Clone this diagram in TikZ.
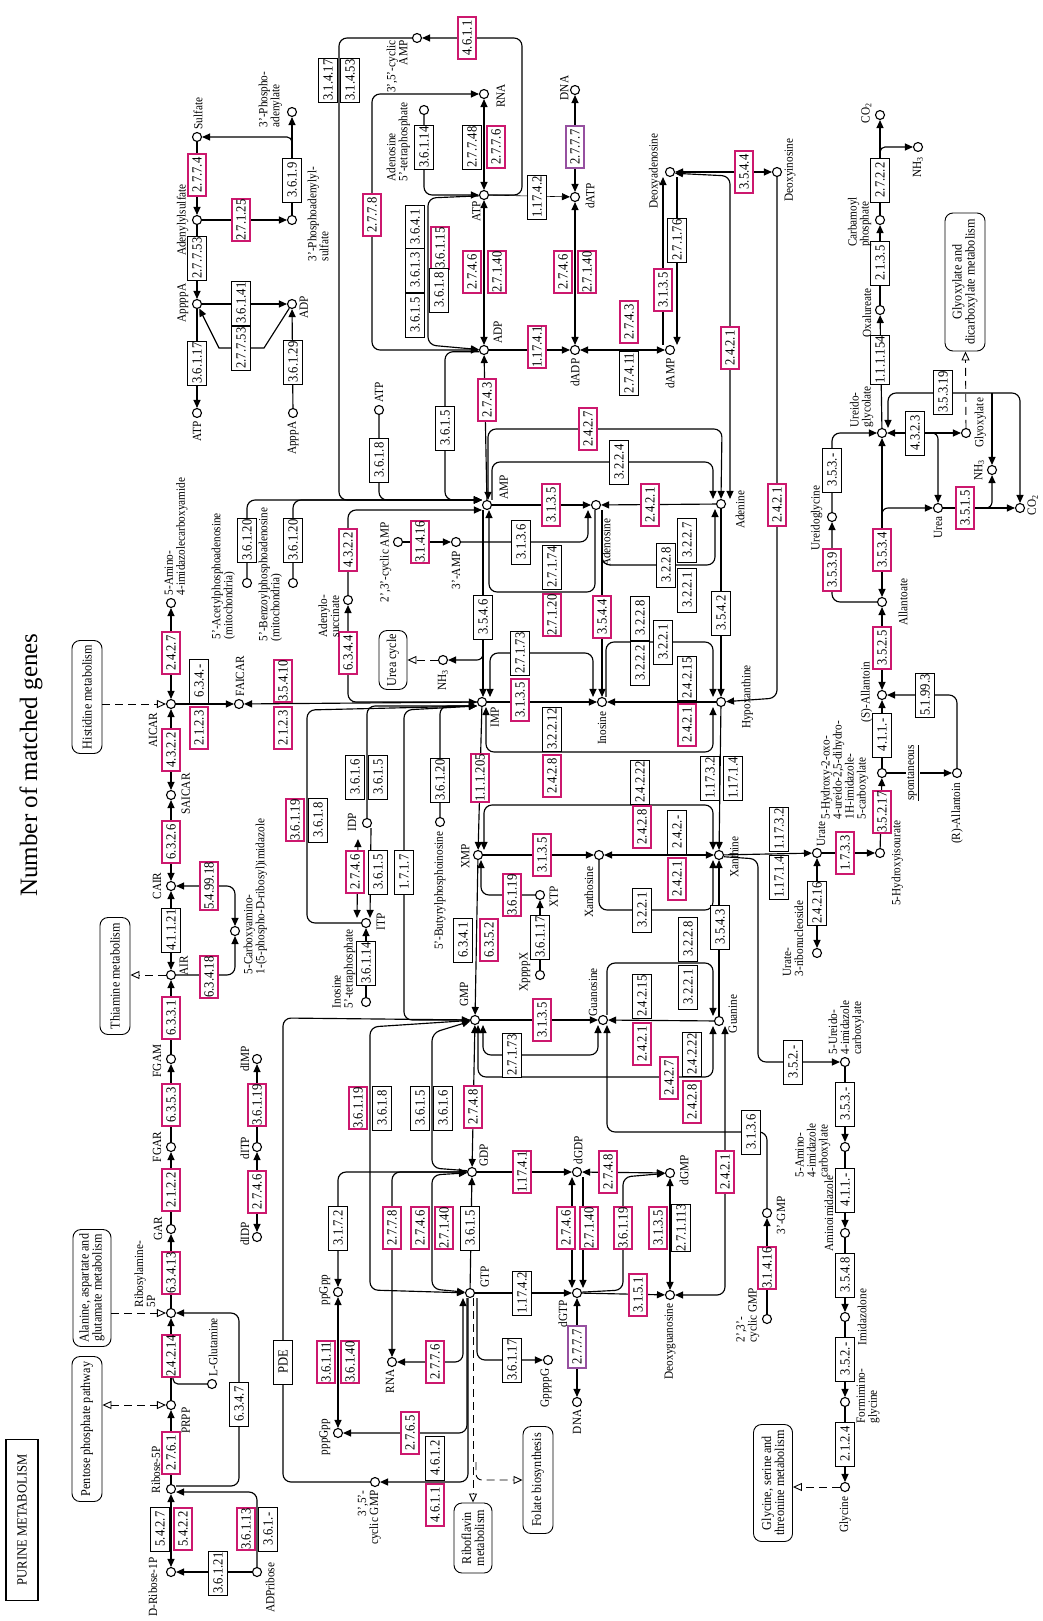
\documentclass[tikz,border=0pt]{standalone}
\usepackage{fontspec}
\setmainfont{Liberation Serif}[FakeStretch=0.9]
\newfontfamily\ttlfont{Liberation Serif}
\usetikzlibrary{arrows.meta}
\definecolor{kegghit}{RGB}{204,24,110}
\definecolor{keggdna}{RGB}{150,80,160}

\begin{document}
\begin{tikzpicture}[x=1pt,y=-1pt,
  cpd/.style={circle,draw,fill=white,line width=1.1pt,inner sep=0pt,minimum size=9pt},
  enz/.style={draw,fill=white,rotate=90,line width=0.9pt,inner xsep=0.5pt,inner ysep=0pt,minimum width=44pt,minimum height=19pt,font=\fontsize{14}{14}\selectfont},
  hitbox/.style={enz,draw=kegghit,line width=2.6pt,minimum width=42pt,minimum height=18pt},
  dnabox/.style={hitbox,draw=keggdna},
  lbl/.style={rotate=90,inner sep=0.5pt,font=\fontsize{12.5}{12}\selectfont,align=left},
  pmap/.style={draw,rounded corners=8pt,rotate=90,line width=0.9pt,fill=white,font=\fontsize{13.5}{13}\selectfont,align=center},
  conn/.style={line width=1.15pt},
  ar/.style={conn,-{Triangle[length=8pt,width=7pt]}},
  ar2/.style={conn,{Triangle[length=8pt,width=7pt]}-{Triangle[length=8pt,width=7pt]}},
  lnk/.style={line width=0.9pt,dash pattern=on 8pt off 5pt},
  opn/.style={lnk,-{Triangle[open,length=9pt,width=8pt]}}]
\fill[white] (0,0) rectangle (1043,1621);
\useasboundingbox (0,0) rectangle (1043,1621);

\node[cpd] (sulf) at (197,137) {};
\node[cpd] (aps) at (197,220) {};
\node[cpd] (ap4a) at (197,304) {};
\node[cpd] (adps) at (292,304) {};
\node[cpd] (atps) at (197,413) {};
\node[cpd] (ap3a) at (293,413) {};
\node[cpd] (paps) at (292,220) {};
\node[cpd] (pap) at (292,112) {};
\node[cpd] (camp) at (417,38) {};
\node[cpd] (rnaa) at (484,94) {};
\node[cpd] (a5tp) at (424,110) {};
\node[cpd] (atp) at (484,195) {};
\node[cpd] (adp) at (484,350) {};
\node[cpd] (datp) at (575,197) {};
\node[cpd] (dnaa) at (575,90) {};
\node[cpd] (dadp) at (575,350) {};
\node[cpd] (damp) at (670,350) {};
\node[cpd] (dado) at (670,172) {};
\node[cpd] (dino) at (777,172) {};
\node[cpd] (atpb) at (379,410) {};
\node[cpd] (amp) at (487,505) {};
\node[cpd] (ado) at (596,505) {};
\node[cpd] (ade) at (721,504) {};
\node[cpd] (camp23) at (398,542) {};
\node[cpd] (amp3) at (456,542) {};
\node[cpd] (nh3a) at (443,660) {};
\node[cpd] (imp) at (482,702) {};
\node[cpd] (ino) at (602,702) {};
\node[cpd] (hyp) at (721,702) {};
\node[cpd] (faicar) at (239,704) {};
\node[cpd] (aicar) at (171,704) {};
\node[cpd] (saicar) at (171,795) {};
\node[cpd] (aica) at (171,603) {};
\node[cpd] (acpa) at (247,583) {};
\node[cpd] (bzpa) at (293,583) {};
\node[cpd] (adsuc) at (348,600) {};
\node[cpd] (xmp) at (478,855) {};
\node[cpd] (xao) at (599,855) {};
\node[cpd] (xan) at (719,855) {};
\node[cpd] (urate) at (817,853) {};
\node[cpd] (hiu) at (880,853) {};
\node[cpd] (ohcu) at (882,773) {};
\node[cpd] (sall) at (882,695) {};
\node[cpd] (rall) at (957,773) {};
\node[cpd] (allt) at (882,602) {};
\node[cpd] (ugly) at (832,517) {};
\node[cpd] (ugol) at (882,433) {};
\node[cpd] (urea) at (938,508) {};
\node[cpd] (glx) at (966,433) {};
\node[cpd] (nh3b) at (992,470) {};
\node[cpd] (co2a) at (1020,508) {};
\node[cpd] (co2b) at (880,115) {};
\node[cpd] (nh3c) at (918,147) {};
\node[cpd] (cbp) at (880,220) {};
\node[cpd] (oxu) at (880,310) {};
\node[cpd] (u3r) at (817,953) {};
\node[cpd] (gua) at (719,1021) {};
\node[cpd] (uic) at (845,1062) {};
\node[cpd] (aic) at (845,1147) {};
\node[cpd] (gmp3) at (767,1213) {};
\node[cpd] (cgmp23) at (767,1319) {};
\node[cpd] (aimz) at (845,1233) {};
\node[cpd] (imzl) at (845,1317) {};
\node[cpd] (fgly) at (845,1402) {};
\node[cpd] (gly) at (845,1487) {};
\node[cpd] (gmp) at (475,1020) {};
\node[cpd] (guo) at (603,1020) {};
\node[cpd] (gdp) at (472,1172) {};
\node[cpd] (dgdp) at (577,1172) {};
\node[cpd] (dgmp) at (670,1173) {};
\node[cpd] (gtp) at (470,1293) {};
\node[cpd] (dgtp) at (577,1293) {};
\node[cpd] (dnab) at (577,1402) {};
\node[cpd] (dguo) at (670,1295) {};
\node[cpd] (rnab) at (392,1362) {};
\node[cpd] (gp4g) at (548,1360) {};
\node[cpd] (cgmp) at (375,1482) {};
\node[cpd] (ppgpp) at (338,1292) {};
\node[cpd] (pppgpp) at (338,1433) {};
\node[cpd] (itp) at (366,923) {};
\node[cpd] (idp) at (367,823) {};
\node[cpd] (i5tp) at (366,1002) {};
\node[cpd] (bpi) at (440,822) {};
\node[cpd] (xtp) at (540,895) {};
\node[cpd] (xp4x) at (540,975) {};
\node[cpd] (ditp) at (257,1147) {};
\node[cpd] (dimp) at (257,1059) {};
\node[cpd] (didp) at (257,1237) {};
\node[cpd] (fgar) at (171,1147) {};
\node[cpd] (fgam) at (171,1059) {};
\node[cpd] (air) at (171,975) {};
\node[cpd] (cair) at (171,886) {};
\node[cpd] (ncair) at (235,931) {};
\node[cpd] (gar) at (171,1229) {};
\node[cpd] (pra) at (171,1313) {};
\node[cpd] (prpp) at (171,1405) {};
\node[cpd] (gln) at (212,1384) {};
\node[cpd] (r5p) at (171,1489) {};
\node[cpd] (r1p) at (171,1572) {};
\node[cpd] (adpr) at (257,1572) {};

\node[pmap,minimum width=113pt,minimum height=30pt] (his) at (87,697) {Histidine metabolism};
\node[pmap,minimum width=117pt,minimum height=30pt] (thi) at (115,976) {Thiamine metabolism};
\node[pmap,minimum width=117pt,minimum height=38pt] (ala) at (92,1288) {Alanine, aspartate and\\glutamate metabolism};
\node[pmap,minimum width=145pt,minimum height=30pt] (ppp) at (87,1429) {Pentose phosphate pathway};
\node[pmap,minimum width=58pt,minimum height=28pt] (urc) at (393,660) {Urea cycle};
\node[pmap,minimum width=138pt,minimum height=40pt] (glxm) at (965,282) {Glyoxylate and\\dicarboxylate metabolism};
\node[pmap,minimum width=117pt,minimum height=39pt] (glym) at (773,1483) {Glycine, serine and\\threonine metabolism};
\node[pmap,minimum width=70pt,minimum height=38pt] (ribm) at (473,1538) {Riboflavin\\metabolism};
\node[pmap,minimum width=107pt,minimum height=30pt] (fol) at (538,1480) {Folate biosynthesis};
\node[draw,line width=1.6pt,rotate=90,minimum width=161pt,minimum height=32pt,font=\fontsize{14}{14}\selectfont] (ttlbox) at (22,1520) {PURINE METABOLISM};
\node[rotate=90,font=\ttlfont\fontsize{25}{25}\selectfont] (title) at (31,765) {Number of matched genes};

\draw[ar] (sulf) -- (aps);
\draw[ar] (aps) -- (paps);
\draw[ar] (paps) -- (pap);
\coordinate (bsulf) at (292,150);
\draw[ar,rounded corners=5pt] (bsulf) |- (sulf);
\draw[ar] (aps) -- (ap4a);
\draw[ar] (ap4a) -- (adps);
\draw[ar] (adps) -- (264,348) -- (219,348) -- (ap4a);
\draw[ar] (ap4a) -- (atps);
\draw[ar] (ap3a) -- (adps);

\draw[ar,rounded corners=8pt] (atp) -- (522,195) -- (522,38) -- (camp);
\draw[ar,rounded corners=8pt] (camp) -| (339,500) -- ([yshift=5pt]amp.west);
\draw[ar2,rounded corners=8pt] (rnaa) -- (372,94) -- (372,350) -- (adp);
\draw[ar2] (atp) -- (rnaa);
\draw[ar,rounded corners=8pt] (a5tp) |- (atp);
\draw[ar,rounded corners=8pt] (atp.190) -- (428,198) -- (428,345) -- (adp);
\draw[ar2] (atp) -- (adp);
\draw[line width=0.6pt,-{Triangle[length=8pt,width=7pt]}] (atp) -- (datp);
\draw[ar2] (datp) -- (dnaa);
\draw[ar2] (datp) -- (dadp);
\draw[ar] (adp) -- (dadp);
\draw[ar2] (dadp) -- (damp);
\draw[ar] ([xshift=-7pt]damp.north) -- ([xshift=-7pt]dado.south);
\draw[ar] ([xshift=7pt]dado.south) -- ([xshift=7pt]damp.north);
\draw[ar2] (dado) -- (dino);
\draw[ar2,rounded corners=8pt] (dado.-15) -- (730,176) -- ([xshift=9pt]ade.north);
\draw[ar,rounded corners=8pt] (dino) -- (777,698) -- (hyp);

\draw[ar] (amp) -- (adp);
\draw[ar2,rounded corners=8pt] ([xshift=1pt]amp.north) -- (488,429) -- (722,429) -- (ade.north);
\draw[ar,rounded corners=8pt] ([xshift=5pt]amp.north) -- (492,462) -- (713,462) -- ([xshift=-8pt]ade.north);
\draw[ar] (amp) -- (ado);
\draw[ar] (ade) -- (ado);
\draw[ar] (camp23) -- (amp3);
\draw[ar,rounded corners=8pt] (amp3) -| ([xshift=-8pt]ado.south);
\draw[ar,rounded corners=8pt] ([xshift=-1pt]ado.south) -- (595,592) -- (489,592) -- ([xshift=2pt]amp.south);
\draw[ar] ([xshift=6pt]ado.south) -- (ino.north);
\draw[ar,rounded corners=8pt] ([xshift=6pt]ado.south) -- (602,565) -- (715,565) -- ([xshift=-6pt]ade.south);
\draw[ar2,rounded corners=8pt] ([xshift=-9pt]ino.north) -- (593,653) -- (490,653) -- ([xshift=8pt]imp.north);
\draw[ar] ([xshift=-4pt]amp.south) -- ([xshift=1pt]imp.north);
\coordinate (bnh3) at (483,640);
\draw[ar,rounded corners=6pt] (bnh3) |- (nh3a);
\draw[opn] (nh3a) -- (urc);
\draw[ar] (imp) -- (ino);
\draw[ar] (hyp) -- (ino);
\draw[ar2,rounded corners=8pt] ([xshift=4pt]imp.south) -- (486,752) -- (713,752) -- ([xshift=-8pt]hyp.south);
\draw[ar,rounded corners=8pt] ([xshift=4pt]ino.north) -- (606,642) -- (713,642) -- ([xshift=-8pt]hyp.north);
\draw[ar] (ade) -- (hyp);

\draw[ar,rounded corners=8pt] (acpa) |- ([yshift=5pt]amp.west);
\draw[ar,rounded corners=8pt] (bzpa) |- ([yshift=5pt]amp.west);
\draw[ar,rounded corners=8pt] (atpb) |- ([yshift=5pt]amp.west);
\draw[ar,rounded corners=8pt] (adp.200) -| (445,500) -- ([yshift=5pt]amp.west);
\draw[ar,rounded corners=8pt] (imp) -| (adsuc);
\draw[ar,rounded corners=8pt] (adsuc) |- ([yshift=-5pt]amp.west);

\draw[ar] (r5p) -- (prpp);
\draw[ar] (prpp) -- (pra);
\draw[ar] (pra) -- (gar);
\draw[ar] (gar) -- (fgar);
\draw[ar] (fgar) -- (fgam);
\draw[ar] (fgam) -- (air);
\draw[ar2] (air) -- (cair);
\draw[ar2] (cair) -- (saicar);
\draw[ar2] (saicar) -- (aicar);
\draw[ar2] (aicar) -- (aica);
\draw[ar] (aicar) -- (faicar);
\draw[ar2] (faicar) -- (imp);
\draw[ar,rounded corners=8pt] (air) -| (ncair);
\draw[ar2,rounded corners=8pt] (ncair) |- (cair);
\draw[ar2] (r5p) -- (r1p);
\draw[ar] (adpr) -- (r1p);
\draw[ar,rounded corners=8pt] (adpr) |- ([yshift=-3pt]r5p.east);
\draw[ar,rounded corners=8pt] ([yshift=3pt]r5p.east) -| (239,1313) -- (pra);
\coordinate (bgln) at (173,1376);
\draw[conn,rounded corners=5pt] (gln) -| (bgln);
\draw[opn] (his.south |- aicar) -- (aicar);
\draw[opn] (air) -- (thi.south |- air);
\draw[opn] (ala.south |- pra) -- (pra);
\draw[lnk,{Triangle[open,length=9pt,width=8pt]}-{Triangle[open,length=9pt,width=8pt]}] (ppp.south |- prpp) -- (prpp);
\draw[opn] (glx) -- (glxm);
\draw[opn] (gly) -- (glym.south |- gly);
\draw[opn] ([xshift=3pt]gtp.south) -- (ribm.east);
\coordinate (bfol) at (476,1462);
\draw[opn,rounded corners=6pt] (bfol) |- (fol);

\draw[ar] (imp) -- (xmp);
\draw[ar2,rounded corners=8pt] ([xshift=6pt]xmp.north) -- (484,805) -- (713,805) -- ([xshift=-6pt]xan.north);
\draw[ar] (hyp) -- (xan);
\draw[ar] (xmp) -- (xao);
\draw[ar2] (xan) -- (xao);
\draw[ar,rounded corners=8pt] (xao) |- (713,910) -- ([xshift=-6pt]xan.south);
\draw[ar,rounded corners=8pt] (xtp) -| ([xshift=3pt]xmp.south);
\draw[ar] (xp4x) -- (xtp);
\draw[ar] (xmp) -- (gmp);
\draw[ar] (gmp) -- (guo);
\draw[ar] (gua) -- (guo);
\draw[ar2,rounded corners=8pt] ([xshift=-5pt]guo.south) -- (598,1055) -- (483,1055) -- ([xshift=8pt]gmp.south);
\draw[ar2,rounded corners=8pt] ([xshift=3pt]gmp.south) -- (478,1077) -- (713,1077) -- ([xshift=-6pt]gua.south);
\draw[ar,rounded corners=8pt] ([xshift=4pt]guo.north) -- (607,963) -- (713,963) -- ([xshift=-6pt]gua.north);
\draw[ar] (gua) -- (xan);
\draw[ar] (xan) -- (urate);
\draw[ar] (urate) -- (hiu);
\draw[ar] (hiu) -- (ohcu);
\draw[ar] (ohcu) -- (sall);
\draw[ar] (ohcu) -- (rall);
\draw[ar,rounded corners=8pt] (rall) |- (sall);
\draw[ar2] (sall) -- (allt);
\draw[ar2] (allt) -- (ugol);
\coordinate (burea) at (882,525);
\draw[ar,rounded corners=6pt] (burea) |- (urea);
\draw[ar,rounded corners=8pt] (allt) -| (ugly);
\draw[ar,rounded corners=8pt] (ugly) |- (ugol);
\draw[ar2] (ugol) -- (glx);
\coordinate (bureb) at (927,433);
\draw[ar,rounded corners=6pt] (bureb) -| (urea);
\draw[ar] (urea) -- (co2a);
\coordinate (bnh3b) at (980,508);
\draw[ar,rounded corners=6pt] (bnh3b) -| (nh3b);
\draw[ar] (ugol) -- (oxu);
\draw[ar] (oxu) -- (cbp);
\draw[ar] (cbp) -- (co2b);
\coordinate (bnh3c) at (880,158);
\draw[ar,rounded corners=5pt] (bnh3c) |- (nh3c);
\draw[ar2,rounded corners=8pt] ([xshift=6pt]ugol.north) -- (888,393) -- (1020,393) -- (co2a);
\coordinate (bnh3d) at (992,393);
\draw[ar] (bnh3d) -- (nh3b);
\draw[ar2] (urate) -- (u3r);
\draw[ar,rounded corners=8pt] (xan.-20) -- (758,859) -- (758,1062) -- (uic);
\draw[ar] (uic) -- (aic);
\draw[ar] (aic) -- (aimz);
\draw[ar] (aimz) -- (imzl);
\draw[ar] (imzl) -- (fgly);
\draw[ar] (fgly) -- (gly);
\draw[ar,rounded corners=8pt] (gmp3) |- (607,1132) -- ([xshift=4pt]guo.south);
\draw[ar] (cgmp23) -- (gmp3);
\draw[ar2,rounded corners=8pt] ([xshift=6pt]gua.south) -- (725,1295) -- (dguo);

\draw[ar2] (gmp) -- (gdp);
\draw[ar] (gdp) -- (dgdp);
\draw[ar2] (dgdp) -- (dgmp);
\draw[ar,rounded corners=8pt] (dgtp.10) -- (623,1290) -- (623,1177) -- (dgmp);
\draw[ar2] (dgmp) -- (dguo);
\draw[ar2] ([xshift=-5pt]dgdp.south) -- ([xshift=-5pt]dgtp.north);
\draw[ar] ([xshift=6pt]dgdp.south) -- ([xshift=6pt]dgtp.north);
\draw[ar] (gtp) -- (dgtp);
\draw[ar2] (dgtp) -- (dnab);
\draw[ar] (dgtp) -- (dguo);
\draw[ar2,rounded corners=8pt] (gdp.190) -- (432,1175) -- (432,1289) -- (gtp.170);
\draw[ar,rounded corners=8pt] (gdp.165) -- (432,1168) -- (432,1033) -- (gmp.195);
\draw[ar2,rounded corners=8pt] (gmp.185) -- (370,1027) -- (370,1290) -- (gtp.178);
\draw[ar,rounded corners=8pt] (cgmp) -- (283,1482) -- (283,1018) -- (gmp);
\draw[ar,rounded corners=8pt] (gmp) -| (404,710) -- ([yshift=-4pt]imp.west);
\draw[ar,rounded corners=8pt] (idp) |- ([yshift=-4pt]imp.west);
\draw[ar,rounded corners=8pt] (itp) -| (307,710) -- ([yshift=-4pt]imp.west);
\draw[ar,rounded corners=8pt] (bpi) |- ([yshift=-4pt]imp.west);
\draw[ar2] ([xshift=-9pt,yshift=-11pt]idp.south) -- ([xshift=-9pt]itp.north);
\draw[ar] ([xshift=4pt]idp.south) -- ([xshift=4pt]itp.north);
\draw[ar] (i5tp) -- (itp);
\draw[ar] (ditp) -- (dimp);
\draw[ar2] (didp) -- (ditp);
\draw[ar2,rounded corners=8pt] (ppgpp) |- (gdp);
\draw[ar,rounded corners=8pt] (gdp) -| (rnab);
\draw[ar2] (ppgpp) -- (pppgpp);
\draw[ar2,rounded corners=8pt] (rnab) -| ([xshift=-7pt]gtp.south);
\draw[ar,rounded corners=8pt] ([xshift=7pt]gtp.south) |- (gp4g);
\draw[ar,rounded corners=8pt] ([xshift=-3pt]gtp.south) |- (pppgpp);
\draw[ar,rounded corners=8pt] ([xshift=-2pt]gtp.south) |- (cgmp);
\draw[ar] (gtp) -- (gdp);

\node[hitbox] (e2774) at (197,175) {2.7.7.4};
\node[hitbox] (e27125) at (241,220) {2.7.1.25};
\node[enz] (e3619) at (292,180) {3.6.1.9};
\node[enz] (e27753a) at (197,258) {2.7.7.53};
\node[enz] (e36141) at (241,303) {3.6.1.41};
\node[enz] (e27753b) at (241,348) {2.7.7.53};
\node[enz] (e36117a) at (197,363) {3.6.1.17};
\node[enz] (e36129) at (293,362) {3.6.1.29};
\node[enz] (e31417) at (328,80) {3.1.4.17};
\node[enz] (e31453) at (350,80) {3.1.4.53};
\node[hitbox] (e4611a) at (467,38) {4.6.1.1};
\node[enz] (e36114a) at (424,147) {3.6.1.14};
\node[enz] (e27748) at (472,147) {2.7.7.48};
\node[hitbox] (e2776a) at (496,147) {2.7.7.6};
\node[hitbox] (e2778a) at (372,215) {2.7.7.8};
\node[enz] (e3641) at (415,227) {3.6.4.1};
\node[enz] (e3613) at (415,270) {3.6.1.3};
\node[enz] (e3615a) at (415,315) {3.6.1.5};
\node[hitbox] (e36115) at (440,248) {3.6.1.15};
\node[enz] (e3618a) at (439,290) {3.6.1.8};
\node[hitbox] (e2746a) at (472,272) {2.7.4.6};
\node[hitbox] (e27140a) at (497,272) {2.7.1.40};
\node[enz] (e11742a) at (537,197) {1.17.4.2};
\node[dnabox] (e2777a) at (575,147) {2.7.7.7};
\node[hitbox] (e2746b) at (563,272) {2.7.4.6};
\node[hitbox] (e27140b) at (587,272) {2.7.1.40};
\node[hitbox] (e11741a) at (537,347) {1.17.4.1};
\node[hitbox] (e2743a) at (629,322) {2.7.4.3};
\node[enz] (e27411) at (629,373) {2.7.4.11};
\node[hitbox] (e3135a) at (663,290) {3.1.3.5};
\node[enz] (e27176) at (677,240) {2.7.1.76};
\node[hitbox] (e3544a) at (744,172) {3.5.4.4};
\node[hitbox] (e2421a) at (730,348) {2.4.2.1};
\node[enz] (e2722) at (880,180) {2.7.2.2};
\node[enz] (e2135) at (880,263) {2.1.3.5};
\node[enz] (e111154) at (880,360) {1.1.1.154};
\node[enz] (e35319) at (943,392) {3.5.3.19};
\node[hitbox] (e2743b) at (487,400) {2.7.4.3};
\node[enz] (e3618b) at (379,460) {3.6.1.8};
\node[enz] (e3615b) at (445,428) {3.6.1.5};
\node[hitbox] (e2427a) at (588,429) {2.4.2.7};
\node[enz] (e3224) at (619,462) {3.2.2.4};
\node[hitbox] (e3135b) at (551,505) {3.1.3.5};
\node[hitbox] (e2421b) at (650,505) {2.4.2.1};
\node[hitbox] (e31416a) at (420,542) {3.1.4.16};
\node[enz] (e3136a) at (521,542) {3.1.3.6};
\node[enz] (e27174) at (552,567) {2.7.1.74};
\node[hitbox] (e27120) at (552,615) {2.7.1.20};
\node[enz] (e3546) at (483,617) {3.5.4.6};
\node[hitbox] (e3544b) at (602,617) {3.5.4.4};
\node[enz] (e3228a) at (666,565) {3.2.2.8};
\node[enz] (e3227) at (687,540) {3.2.2.7};
\node[enz] (e3221a) at (687,590) {3.2.2.1};
\node[enz] (e3542) at (721,613) {3.5.4.2};
\node[hitbox] (e2421c) at (777,505) {2.4.2.1};
\node[enz] (e3228b) at (640,618) {3.2.2.8};
\node[enz] (e3222) at (640,663) {3.2.2.2};
\node[enz] (e3221b) at (663,642) {3.2.2.1};
\node[enz] (e24215a) at (687,678) {2.4.2.15};
\node[hitbox] (e2421d) at (687,725) {2.4.2.1};
\node[enz] (e27173a) at (520,653) {2.7.1.73};
\node[hitbox] (e3135c) at (520,700) {3.1.3.5};
\node[enz] (e32212) at (552,729) {3.2.2.12};
\node[hitbox] (e2428a) at (552,776) {2.4.2.8};
\node[enz] (e36120a) at (247,540) {3.6.1.20};
\node[enz] (e36120b) at (293,540) {3.6.1.20};
\node[hitbox] (e4322a) at (348,550) {4.3.2.2};
\node[hitbox] (e6344) at (348,653) {6.3.4.4};
\node[enz] (e3616a) at (355,777) {3.6.1.6};
\node[enz] (e3615c) at (378,777) {3.6.1.5};
\node[enz] (e36120c) at (440,780) {3.6.1.20};
\node[hitbox] (e111205) at (480,778) {1.1.1.205};
\node[enz] (e24222a) at (640,782) {2.4.2.22};
\node[enz] (e11732a) at (710,778) {1.17.3.2};
\node[enz] (e11714a) at (733,778) {1.17.1.4};
\node[enz] (e353a) at (832,470) {3.5.3.-};
\node[enz] (e4323) at (915,433) {4.3.2.3};
\node[hitbox] (e3539) at (832,570) {3.5.3.9};
\node[hitbox] (e3534) at (882,550) {3.5.3.4};
\node[hitbox] (e3515) at (965,508) {3.5.1.5};
\node[hitbox] (e3525) at (882,648) {3.5.2.5};
\node[enz] (e51993) at (925,695) {5.1.99.3};
\node[enz] (e411a) at (882,735) {4.1.1.-};
\node[hitbox] (e35217) at (882,812) {3.5.2.17};
\node[hitbox] (e1733) at (845,853) {1.7.3.3};
\node[enz] (e11732b) at (779,829) {1.17.3.2};
\node[enz] (e11714b) at (779,877) {1.17.1.4};
\node[enz] (e24216) at (817,903) {2.4.2.16};
\node[hitbox] (e2761) at (171,1453) {2.7.6.1};
\node[hitbox] (e24214) at (171,1356) {2.4.2.14};
\node[hitbox] (e63413) at (171,1273) {6.3.4.13};
\node[hitbox] (e2122) at (171,1190) {2.1.2.2};
\node[hitbox] (e6353) at (171,1105) {6.3.5.3};
\node[hitbox] (e6331) at (171,1018) {6.3.3.1};
\node[enz] (e41121) at (171,930) {4.1.1.21};
\node[hitbox] (e6326) at (171,842) {6.3.2.6};
\node[hitbox] (e4322b) at (171,750) {4.3.2.2};
\node[hitbox] (e2427b) at (171,653) {2.4.2.7};
\node[hitbox] (e2123a) at (199,728) {2.1.2.3};
\node[enz] (e634) at (199,681) {6.3.4.-};
\node[hitbox] (e2123b) at (283,728) {2.1.2.3};
\node[hitbox] (e35410) at (283,681) {3.5.4.10};
\node[hitbox] (e549918) at (209,886) {5.4.99.18};
\node[hitbox] (e63418) at (209,977) {6.3.4.18};
\node[enz] (e6347) at (239,1404) {6.3.4.7};
\node[enz] (e5427) at (160,1529) {5.4.2.7};
\node[hitbox] (e5422) at (183,1529) {5.4.2.2};
\node[enz] (e36121) at (218,1573) {3.6.1.21};
\node[hitbox] (e36113) at (246,1529) {3.6.1.13};
\node[enz] (e361) at (268,1529) {3.6.1.-};
\node[hitbox] (e36119a) at (295,820) {3.6.1.19};
\node[enz] (e3618c) at (318,820) {3.6.1.8};
\node[hitbox] (e2746c) at (355,872) {2.7.4.6};
\node[enz] (e3615d) at (378,872) {3.6.1.5};
\node[enz] (e1717) at (404,872) {1.7.1.7};
\node[enz] (e36114b) at (366,963) {3.6.1.14};
\node[hitbox] (e36119b) at (257,1105) {3.6.1.19};
\node[hitbox] (e2746d) at (257,1192) {2.7.4.6};
\node[hitbox] (e2428b) at (642,827) {2.4.2.8};
\node[enz] (e242x) at (677,832) {2.4.2.-};
\node[hitbox] (e2421e) at (677,879) {2.4.2.1};
\node[hitbox] (e3135d) at (542,855) {3.1.3.5};
\node[hitbox] (e36119c) at (512,895) {3.6.1.19};
\node[enz] (e36117b) at (540,937) {3.6.1.17};
\node[enz] (e6341) at (463,940) {6.3.4.1};
\node[hitbox] (e6352) at (489,940) {6.3.5.2};
\node[enz] (e3221c) at (642,910) {3.2.2.1};
\node[enz] (e3228c) at (688,939) {3.2.2.8};
\node[enz] (e3221d) at (688,987) {3.2.2.1};
\node[enz] (e3543) at (720,927) {3.5.4.3};
\node[hitbox] (e3135e) at (542,1020) {3.1.3.5};
\node[enz] (e24215b) at (642,996) {2.4.2.15};
\node[hitbox] (e2421f) at (642,1044) {2.4.2.1};
\node[enz] (e27173b) at (512,1055) {2.7.1.73};
\node[enz] (e24222b) at (692,1054) {2.4.2.22};
\node[hitbox] (e2427c) at (669,1078) {2.4.2.7};
\node[hitbox] (e2428c) at (692,1102) {2.4.2.8};
\node[enz] (e352a) at (793,1062) {3.5.2.-};
\node[enz] (e353b) at (845,1104) {3.5.3.-};
\node[enz] (e411b) at (845,1190) {4.1.1.-};
\node[enz] (e3548) at (845,1275) {3.5.4.8};
\node[enz] (e352b) at (845,1359) {3.5.2.-};
\node[enz] (e2124) at (845,1444) {2.1.2.4};
\node[enz] (e3136b) at (751,1132) {3.1.3.6};
\node[hitbox] (e2421g) at (725,1172) {2.4.2.1};
\node[hitbox] (e31416b) at (767,1268) {3.1.4.16};
\node[hitbox] (e2748a) at (473,1107) {2.7.4.8};
\node[hitbox] (e36119d) at (358,1108) {3.6.1.19};
\node[enz] (e3618d) at (382,1108) {3.6.1.8};
\node[enz] (e3615e) at (420,1108) {3.6.1.5};
\node[enz] (e3616b) at (443,1108) {3.6.1.6};
\node[hitbox] (e11741b) at (522,1172) {1.17.4.1};
\node[hitbox] (e2748b) at (608,1172) {2.7.4.8};
\node[enz] (e3172) at (338,1228) {3.1.7.2};
\node[hitbox] (e2778b) at (392,1228) {2.7.7.8};
\node[hitbox] (e2746e) at (420,1228) {2.7.4.6};
\node[hitbox] (e27140c) at (444,1228) {2.7.1.40};
\node[enz] (e3615f) at (470,1228) {3.6.1.5};
\node[hitbox] (e2746f) at (566,1228) {2.7.4.6};
\node[hitbox] (e27140d) at (589,1228) {2.7.1.40};
\node[hitbox] (e36119e) at (623,1228) {3.6.1.19};
\node[hitbox] (e3135f) at (658,1228) {3.1.3.5};
\node[enz] (e271113) at (681,1228) {2.7.1.113};
\node[enz] (e11742b) at (522,1293) {1.17.4.2};
\node[hitbox] (e3151) at (638,1295) {3.1.5.1};
\node[dnabox] (e2777b) at (577,1347) {2.7.7.7};
\node[hitbox] (e36111) at (326,1362) {3.6.1.11};
\node[hitbox] (e36140) at (350,1362) {3.6.1.40};
\node[hitbox] (e2776b) at (435,1362) {2.7.7.6};
\node[enz] (e36117c) at (512,1360) {3.6.1.17};
\node[hitbox] (e2765) at (410,1433) {2.7.6.5};
\node[enz] (e4612) at (435,1458) {4.6.1.2};
\node[hitbox] (e4611b) at (435,1505) {4.6.1.1};
\node[enz] (epde) at (283,1362) {PDE};
\node[rotate=90,fill=white,inner sep=1pt,font=\fontsize{12.5}{12}\selectfont] (spont) at (913,773) {\underline{spontaneous}};

\node[lbl,anchor=west] (lsulf) at (198,130) {Sulfate};
\node[lbl,anchor=south] (laps) at (189,220) {Adenylylsulfate};
\node[lbl,anchor=south] (lap4a) at (189,303) {AppppA};
\node[lbl,anchor=north] (ladps) at (299,307) {ADP};
\node[lbl,anchor=east] (latps) at (197,421) {ATP};
\node[lbl,anchor=east] (lap3a) at (293,421) {ApppA};
\node[lbl,anchor=north west] (lpaps) at (307,262) {3'-Phosphoadenylyl-\\sulfate};
\node[lbl,anchor=north west] (lpap) at (258,128) {3'-Phospho-\\adenylate};
\node[lbl,anchor=north east,align=right] (lcamp) at (386,40) {3',5'-cyclic\\AMP};
\node[lbl,anchor=north] (lrnaa) at (496,96) {RNA};
\node[lbl,anchor=north west] (la5tp) at (386,182) {Adenosine\\5'-tetraphosphate};
\node[lbl,anchor=south east] (latp) at (481,201) {ATP};
\node[lbl,anchor=north west] (ladp) at (493,344) {ADP};
\node[lbl,anchor=north] (ldatp) at (585,196) {dATP};
\node[lbl,anchor=south] (ldnaa) at (569,88) {DNA};
\node[lbl,anchor=east] (ldadp) at (575,358) {dADP};
\node[lbl,anchor=east] (ldamp) at (670,358) {dAMP};
\node[lbl,anchor=south] (ldado) at (661,171) {Deoxyadenosine};
\node[lbl,anchor=north] (ldino) at (784,170) {Deoxyinosine};
\node[lbl,anchor=west] (latpb) at (379,403) {ATP};
\node[lbl,anchor=north west] (lamp) at (499,500) {AMP};
\node[lbl,anchor=north east] (lado) at (601,518) {Adenosine};
\node[lbl,anchor=north east] (lade) at (735,490) {Adenine};
\node[lbl,anchor=south east] (lcamp23) at (392,522) {2',3'-cyclic AMP};
\node[lbl,anchor=east] (lamp3) at (456,551) {3'-AMP};
\node[lbl,anchor=east] (lnh3a) at (443,669) {NH\textsubscript{3}};
\node[lbl,anchor=north east] (limp) at (490,707) {IMP};
\node[lbl,anchor=east] (lino) at (602,711) {Inosine};
\node[lbl,anchor=north] (lhyp) at (741,697) {Hypoxanthine};
\node[lbl,anchor=west] (lfaicar) at (240,697) {FAICAR};
\node[lbl,anchor=south east] (laicar) at (158,712) {AICAR};
\node[lbl,anchor=north] (lsaicar) at (181,794) {SAICAR};
\node[lbl,anchor=west] (laica) at (176,596) {5-Amino-\\4-imidazolecarboxyamide};
\node[lbl,anchor=north west] (lacpa) at (211,640) {5'-Acetylphosphoadenosine\\(mitochondria)};
\node[lbl,anchor=north west] (lbzpa) at (258,642) {5'-Benzoylphosphoadenosine\\(mitochondria)};
\node[lbl,anchor=south west] (ladsuc) at (340,638) {Adenylo-\\succinate};
\node[lbl,anchor=south] (lxmp) at (470,856) {XMP};
\node[lbl,anchor=south east] (lxao) at (594,866) {Xanthosine};
\node[lbl,anchor=north] (lxan) at (729,857) {Xanthine};
\node[lbl,anchor=west] (lurate) at (821,847) {Urate};
\node[lbl,anchor=north east] (lhiu) at (891,820) {5-Hydroxyisourate};
\node[lbl,anchor=south west] (lohcu) at (869,820) {5-Hydroxy-2-oxo-\\4-ureido-2,5-dihydro-\\1H-imidazole-\\5-carboxylate};
\node[lbl,anchor=south] (lsall) at (873,692) {(S)-Allantoin};
\node[lbl,anchor=east] (lrall) at (957,782) {(R)-Allantoin};
\node[lbl,anchor=north] (lallt) at (898,602) {Allantoate};
\node[lbl,anchor=south] (lugly) at (823,518) {Ureidoglycine};
\node[lbl,anchor=south west] (lugol) at (874,428) {Ureido-\\glycolate};
\node[lbl,anchor=east] (lurea) at (938,516) {Urea};
\node[lbl,anchor=north] (lglx) at (974,423) {Glyoxylate};
\node[lbl,anchor=south] (lnh3b) at (985,470) {NH\textsubscript{3}};
\node[lbl,anchor=north] (lco2a) at (1027,505) {CO\textsubscript{2}};
\node[lbl,anchor=south] (lco2b) at (872,113) {CO\textsubscript{2}};
\node[lbl,anchor=east] (lnh3c) at (918,156) {NH\textsubscript{3}};
\node[lbl,anchor=south] (lcbp) at (872,222) {Carbamoyl\\phosphate};
\node[lbl,anchor=south] (loxu) at (872,313) {Oxalureate};
\node[lbl,anchor=south west] (lu3r) at (804,977) {Urate-\\3-ribonucleoside};
\node[lbl,anchor=north] (lgua) at (728,1014) {Guanine};
\node[lbl,anchor=west] (luic) at (846,1055) {5-Ureido-\\4-imidazole\\carboxylate};
\node[lbl,anchor=south west] (laic) at (831,1178) {5-Amino-\\4-imidazole\\carboxylate};
\node[lbl,anchor=north east] (lgmp3) at (776,1196) {3'-GMP};
\node[lbl,anchor=south west] (lcgmp23) at (760,1343) {2',3'-\\cyclic GMP};
\node[lbl,anchor=south west] (laimz) at (834,1252) {Aminoimidazole};
\node[lbl,anchor=north] (limzl) at (857,1317) {Imidazolone};
\node[lbl,anchor=north west] (lfgly) at (856,1424) {Formimino-\\glycine};
\node[lbl,anchor=east] (lgly) at (845,1496) {Glycine};
\node[lbl,anchor=south west] (lgmp) at (469,1007) {GMP};
\node[lbl,anchor=south west] (lguo) at (598,1017) {Guanosine};
\node[lbl,anchor=north west] (lgdp) at (479,1167) {GDP};
\node[lbl,anchor=west] (ldgdp) at (578,1165) {dGDP};
\node[lbl,anchor=north] (ldgmp) at (679,1170) {dGMP};
\node[lbl,anchor=north west] (lgtp) at (480,1288) {GTP};
\node[lbl,anchor=south east] (ldgtp) at (568,1300) {dGTP};
\node[lbl,anchor=east] (ldnab) at (577,1409) {DNA};
\node[lbl,anchor=east] (ldguo) at (670,1303) {Deoxyguanosine};
\node[lbl,anchor=east] (lrnab) at (390,1369) {RNA};
\node[lbl,anchor=east] (lgp4g) at (546,1368) {GppppG};
\node[lbl,anchor=north east,align=right] (lcgmp) at (357,1490) {3',5'-\\cyclic GMP};
\node[lbl,anchor=south] (lppgpp) at (331,1290) {ppGpp};
\node[lbl,anchor=south] (lpppgpp) at (331,1437) {pppGpp};
\node[lbl,anchor=north] (litp) at (376,922) {ITP};
\node[lbl,anchor=west] (lidp) at (352,832) {IDP};
\node[lbl,anchor=south west] (li5tp) at (356,1009) {Inosine\\5'-tetraphosphate};
\node[lbl,anchor=east] (lbpi) at (440,831) {5'-Butyrylphosphoinosine};
\node[lbl,anchor=north] (lxtp) at (549,897) {XTP};
\node[lbl,anchor=south] (lxp4x) at (531,972) {XppppX};
\node[lbl,anchor=south] (lditp) at (250,1148) {dITP};
\node[lbl,anchor=south] (ldimp) at (250,1059) {dIMP};
\node[lbl,anchor=south] (ldidp) at (250,1234) {dIDP};
\node[lbl,anchor=south] (lfgar) at (162,1147) {FGAR};
\node[lbl,anchor=south] (lfgam) at (162,1061) {FGAM};
\node[lbl,anchor=north west] (lair) at (179,976) {AIR};
\node[lbl,anchor=south] (lcair) at (162,886) {CAIR};
\node[lbl,anchor=north west] (lncair) at (243,975) {5-Carboxyamino-\\1-(5-phospho-D-ribosyl)imidazole};
\node[lbl,anchor=south] (lgar) at (163,1229) {GAR};
\node[lbl,anchor=south west] (lpra) at (156,1308) {Ribosylamine-\\5P};
\node[lbl,anchor=north east] (lprpp) at (181,1407) {PRPP};
\node[lbl,anchor=west] (lgln) at (213,1377) {L-Glutamine};
\node[lbl,anchor=south west] (lr5p) at (161,1494) {Ribose-5P};
\node[lbl,anchor=south east] (lr1p) at (158,1557) {D-Ribose-1P};
\node[lbl,anchor=north east] (ladpr) at (265,1562) {ADPribose};
\end{tikzpicture}
\end{document}
